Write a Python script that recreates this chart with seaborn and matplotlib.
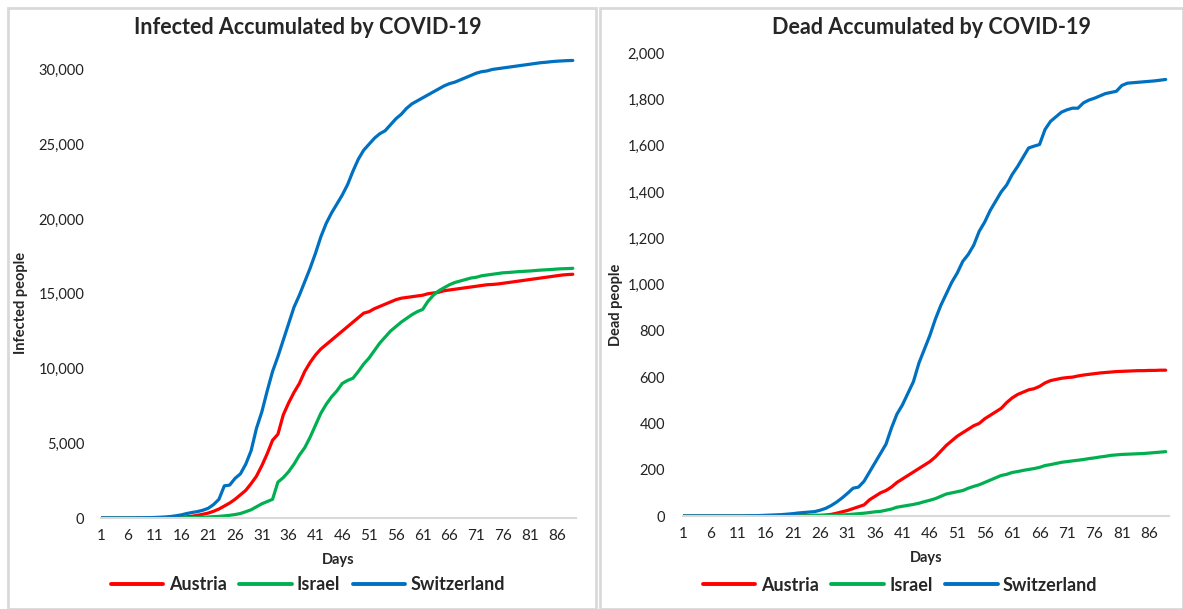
import numpy as np
import pandas as pd
import matplotlib
matplotlib.use("Agg")
import matplotlib.pyplot as plt
from matplotlib.patches import Rectangle
import seaborn as sns

countries = ["Austria", "Israel", "Switzerland"]
colors = {"Austria": "#FF0000", "Israel": "#00B050", "Switzerland": "#0070C0"}

# Infected accumulated, days 1..89
infected_austria = [
    0, 0, 0, 0, 0, 0, 0, 0, 1, 2,
    3, 5, 10, 20, 30, 50, 80, 120, 180, 250,
    330, 450, 600, 800, 1000, 1250, 1550, 1850, 2300, 2800,
    3500, 4300, 5200, 5600, 6900, 7700, 8400, 9000, 9800, 10400,
    10900, 11300, 11600, 11900, 12200, 12500, 12800, 13100, 13400, 13700,
    13800, 14000, 14150, 14300, 14450, 14600, 14700, 14750, 14800, 14850,
    14900, 15000, 15050, 15100, 15200, 15250, 15300, 15350, 15400, 15450,
    15500, 15550, 15600, 15620, 15650, 15700, 15750, 15800, 15850, 15900,
    15950, 16000, 16050, 16100, 16150, 16200, 16250, 16280, 16300]
infected_israel = [
    0, 0, 0, 0, 0, 0, 0, 0, 0, 0,
    0, 0, 1, 2, 5, 10, 20, 30, 40, 50,
    70, 90, 110, 140, 180, 230, 300, 420, 550, 750,
    950, 1100, 1250, 2400, 2700, 3100, 3600, 4200, 4700, 5400,
    6200, 7000, 7600, 8100, 8500, 9000, 9200, 9350, 9800, 10300,
    10700, 11200, 11700, 12100, 12500, 12800, 13100, 13350, 13600, 13800,
    13950, 14500, 14900, 15200, 15400, 15600, 15750, 15850, 15950, 16050,
    16100, 16200, 16250, 16300, 16350, 16400, 16420, 16450, 16480, 16500,
    16520, 16550, 16580, 16600, 16620, 16650, 16670, 16680, 16700]
infected_switzerland = [
    0, 0, 0, 0, 0, 2, 5, 10, 15, 25,
    35, 50, 70, 100, 150, 210, 300, 370, 430, 520,
    650, 900, 1250, 2150, 2200, 2650, 2950, 3600, 4500, 6000,
    7100, 8500, 9800, 10800, 11900, 13000, 14100, 14900, 15800, 16700,
    17700, 18800, 19700, 20400, 21000, 21600, 22300, 23200, 24000, 24600,
    25000, 25400, 25700, 25900, 26300, 26700, 27000, 27400, 27700, 27900,
    28100, 28300, 28500, 28700, 28900, 29050, 29150, 29300, 29450, 29600,
    29750, 29850, 29900, 30000, 30050, 30100, 30150, 30200, 30250, 30300,
    30350, 30400, 30450, 30480, 30520, 30550, 30570, 30590, 30600]

# Dead accumulated, days 1..89
dead_austria = [
    0, 0, 0, 0, 0, 0, 0, 0, 0, 0,
    0, 0, 0, 0, 0, 0, 0, 0, 1, 1,
    1, 1, 2, 2, 3, 3, 4, 7, 12, 18,
    24, 32, 40, 48, 70, 85, 100, 110, 125, 145,
    160, 175, 190, 205, 220, 235, 255, 280, 305, 325,
    345, 360, 375, 390, 400, 420, 435, 450, 465, 490,
    510, 525, 535, 545, 550, 560, 575, 585, 590, 595,
    598, 600, 605, 609, 612, 615, 618, 620, 622, 624,
    625, 626, 627, 628, 628, 629, 629, 630, 630]
dead_israel = [
    0, 0, 0, 0, 0, 0, 0, 0, 0, 0,
    0, 0, 0, 0, 0, 0, 0, 0, 0, 0,
    1, 1, 1, 1, 2, 2, 3, 3, 4, 5,
    6, 8, 10, 12, 15, 18, 20, 25, 30, 38,
    42, 46, 50, 55, 62, 68, 75, 85, 95, 100,
    105, 110, 120, 128, 135, 145, 155, 165, 175, 180,
    188, 192, 197, 201, 205, 210, 218, 222, 227, 232,
    235, 238, 241, 244, 248, 251, 255, 258, 262, 264,
    266, 267, 268, 269, 270, 272, 274, 276, 278]
dead_switzerland = [
    0, 0, 0, 0, 0, 0, 0, 0, 0, 0,
    0, 0, 1, 1, 2, 3, 4, 5, 6, 8,
    10, 13, 15, 17, 19, 25, 33, 45, 60, 78,
    98, 120, 125, 150, 190, 230, 270, 310, 380, 440,
    480, 530, 580, 660, 720, 780, 850, 910, 960, 1010,
    1050, 1100, 1130, 1170, 1230, 1270, 1320, 1360, 1400, 1430,
    1475, 1510, 1550, 1590, 1598, 1605, 1670, 1705, 1725, 1745,
    1755, 1762, 1762, 1785, 1797, 1805, 1815, 1825, 1830, 1835,
    1860, 1870, 1872, 1874, 1876, 1878, 1880, 1883, 1886]

day_ticks = list(range(1, 90, 5))
infected_ticks = [0, 5000, 10000, 15000, 20000, 25000, 30000]
dead_ticks = list(range(0, 2001, 200))


def long_frame(series):
    rows = []
    for name, vals in zip(countries, series):
        for d, v in enumerate(vals, start=1):
            rows.append({"day": d, "value": v, "country": name})
    return pd.DataFrame(rows)


inf_df = long_frame([infected_austria, infected_israel, infected_switzerland])
dead_df = long_frame([dead_austria, dead_israel, dead_switzerland])

sns.set_style("white")
plt.rcParams["font.family"] = ["Lato", "DejaVu Sans"]

W, H = 1183, 609
fig = plt.figure(figsize=(W / 100, H / 100), dpi=100)
fig.patches.append(Rectangle((8 / W, 0), 588 / W, 601 / H, transform=fig.transFigure,
                             fill=False, edgecolor="#D9D9D9", linewidth=2))
fig.patches.append(Rectangle((600 / W, 0), 583 / W, 601 / H, transform=fig.transFigure,
                             fill=False, edgecolor="#D9D9D9", linewidth=2))

ax1 = fig.add_axes([101 / W, 1 - 518 / H, 475 / W, 468 / H])
ax2 = fig.add_axes([683 / W, 1 - 516 / H, 486 / W, 471 / H])

# ax, data, title, title x (px), ylabel, ticks, ymax, tick pad, ylabel x, ylabel y, legend x, legend y
panels = [
    (ax1, inf_df, "Infected Accumulated by COVID-19", 308, "Infected people",
     infected_ticks, 31300, 12, -0.154, 0.46, 0.436, -0.143),
    (ax2, dead_df, "Dead Accumulated by COVID-19", 931, "Dead people",
     dead_ticks, 2035, 13, -0.123, 0.448, 0.447, -0.1465),
]

for ax, df, title, tx, ylabel, yt, ytop, ypad, ylx, yly, lgx, lgy in panels:
    sns.lineplot(data=df, x="day", y="value", hue="country", palette=colors,
                 linewidth=2.3, ax=ax, legend=False)
    ax.set_xlim(1, 89.6)
    ax.set_ylim(0, ytop)
    ax.set_xticks(day_ticks)
    ax.set_yticks(yt)
    ax.set_yticklabels([f"{v:,}" for v in yt])
    ax.tick_params(axis="x", length=0, pad=8, labelsize=11, colors="#222222")
    ax.tick_params(axis="y", length=0, pad=ypad, labelsize=10.5, colors="#222222")
    for s in ["top", "right", "left"]:
        ax.spines[s].set_visible(False)
    ax.spines["bottom"].set_color("#D9D9D9")
    ax.spines["bottom"].set_linewidth(1.5)
    ax.set_xlabel("Days", fontsize=10.5, fontweight="bold", labelpad=7)
    ax.set_ylabel(ylabel, fontsize=10.5, fontweight="bold")
    ax.yaxis.set_label_coords(ylx, yly)
    fig.text(tx / W, 1 - 28 / H, title, fontsize=15.5, fontweight="bold",
             ha="center", va="center")
    handles = [plt.Line2D([], [], color=colors[c], linewidth=2.8) for c in countries]
    ax.legend(handles, countries, loc="center", bbox_to_anchor=(lgx, lgy),
              ncol=3, frameon=False, handlelength=2.9, columnspacing=0.7,
              handletextpad=0.3, prop={"weight": "bold", "size": 13})

fig.savefig("out.png", dpi=100)
